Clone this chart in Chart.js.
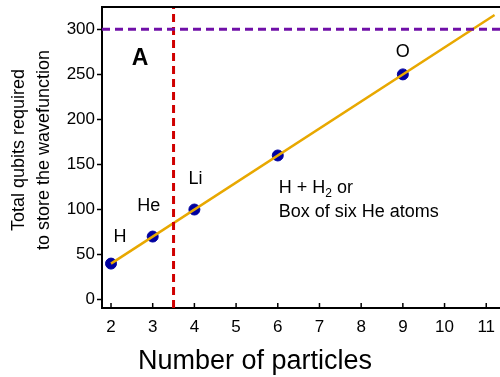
<!DOCTYPE html>
<html>
<head>
<meta charset="utf-8">
<script src="https://cdn.jsdelivr.net/npm/chart.js@4/dist/chart.umd.min.js"></script>
<style>
  html, body { margin: 0; padding: 0; background: #fff; }
  #wrap { width: 500px; height: 377px; }
</style>
</head>
<body>
<div id="wrap"><canvas id="chart" width="500" height="377"></canvas></div>
<script>
// Qubits needed vs number of particles, with the 300-qubit limit and cutoff.
const PARTICLES = [2, 3, 4, 6, 9];
const QUBITS = [40, 70, 100, 160, 250];
const POINT_LABELS = ['H', 'He', 'Li', '', 'O'];
const BOX_LABEL = ['H + H', '2', ' or', 'Box of six He atoms'];

const FIT_X = [2, 11.2];
const FIT_Y = [40, 316];

const QUBIT_LIMIT = 300;
const PARTICLE_CUTOFF = 3.5;

const X_TICKS = [2, 3, 4, 5, 6, 7, 8, 9, 10, 11];
const Y_TICKS = [0, 50, 100, 150, 200, 250, 300];
const X_RANGE = [1.784, 11.33];
const Y_RANGE = [-9.3, 324.8];

const FONT = "'Liberation Sans', Arial, Helvetica, sans-serif";
const ORANGE = '#e8a800';
const BLUE = '#0000a0';
const PURPLE = '#7010a8';
const RED = '#d00000';

const toPoints = (xs, ys) => xs.map((x, i) => ({ x, y: ys[i] }));

// Offsets of each element label from its point, in pixels.
const LABEL_OFFSETS = [[9, -27], [-4, -31], [1, -30], [0, 0], [0, -22]];

const annotations = {
  id: 'annotations',
  afterDraw(chart) {
    const { ctx, chartArea, scales } = chart;
    const xs = scales.x, ys = scales.y;
    ctx.save();

    // top frame
    ctx.strokeStyle = '#000';
    ctx.lineWidth = 2;
    ctx.beginPath();
    ctx.moveTo(chartArea.left - 1, chartArea.top);
    ctx.lineTo(chartArea.right, chartArea.top);
    ctx.stroke();

    // inward x ticks
    ctx.lineWidth = 1.5;
    X_TICKS.forEach(v => {
      const px = xs.getPixelForValue(v);
      ctx.beginPath();
      ctx.moveTo(px, chartArea.bottom);
      ctx.lineTo(px, chartArea.bottom - 5);
      ctx.stroke();
    });

    ctx.fillStyle = '#000';
    ctx.textAlign = 'center';
    ctx.textBaseline = 'middle';
    ctx.font = `18px ${FONT}`;
    PARTICLES.forEach((p, i) => {
      if (!POINT_LABELS[i]) return;
      const [dx, dy] = LABEL_OFFSETS[i];
      ctx.fillText(POINT_LABELS[i], xs.getPixelForValue(p) + dx, ys.getPixelForValue(QUBITS[i]) + dy);
    });

    // two-line label under the 6-particle point
    const bx = xs.getPixelForValue(PARTICLES[3]) + 1;
    const by = ys.getPixelForValue(QUBITS[3]);
    ctx.textAlign = 'left';
    let cx = bx;
    ctx.fillText(BOX_LABEL[0], cx, by + 33);
    cx += ctx.measureText(BOX_LABEL[0]).width;
    ctx.font = `12px ${FONT}`;
    ctx.fillText(BOX_LABEL[1], cx, by + 38);
    cx += ctx.measureText(BOX_LABEL[1]).width;
    ctx.font = `18px ${FONT}`;
    ctx.fillText(BOX_LABEL[2], cx, by + 33);
    ctx.fillText(BOX_LABEL[3], bx, by + 57);

    // panel letter
    ctx.textAlign = 'center';
    ctx.font = `bold 23px ${FONT}`;
    ctx.fillText('A', 140, 59);

    // axis titles
    ctx.font = `27px ${FONT}`;
    ctx.fillText('Number of particles', 255, 362);

    ctx.font = `18px ${FONT}`;
    ctx.translate(0, 150);
    ctx.rotate(-Math.PI / 2);
    ctx.fillText('Total qubits required', 0, 19);
    ctx.fillText('to store the wavefunction', 0, 44);
    ctx.restore();
  }
};

new Chart(document.getElementById('chart'), {
  type: 'scatter',
  data: {
    datasets: [
      {
        label: 'limit',
        data: toPoints(X_RANGE, [QUBIT_LIMIT, QUBIT_LIMIT]),
        showLine: true,
        borderColor: PURPLE,
        borderWidth: 3,
        borderDash: [8, 5],
        pointRadius: 0,
      },
      {
        label: 'cutoff',
        data: toPoints([PARTICLE_CUTOFF, PARTICLE_CUTOFF], Y_RANGE),
        showLine: true,
        borderColor: RED,
        borderWidth: 3,
        borderDash: [8, 5],
        pointRadius: 0,
      },
      {
        label: 'fit',
        data: toPoints(FIT_X, FIT_Y),
        showLine: true,
        borderColor: ORANGE,
        borderWidth: 2.5,
        pointRadius: 0,
      },
      {
        label: 'systems',
        data: toPoints(PARTICLES, QUBITS),
        backgroundColor: BLUE,
        borderColor: BLUE,
        pointRadius: 5.5,
      },
    ],
  },
  options: {
    responsive: false,
    animation: false,
    layout: { autoPadding: false, padding: { top: 7, right: 0, left: 0, bottom: 0 } },
    plugins: { legend: { display: false }, tooltip: { enabled: false } },
    scales: {
      x: {
        type: 'linear',
        min: X_RANGE[0],
        max: X_RANGE[1],
        afterBuildTicks: s => { s.ticks = X_TICKS.map(value => ({ value })); },
        afterFit: s => { s.height = 69; s.paddingLeft = 0; s.paddingRight = 0; },
        grid: { display: true, drawOnChartArea: false, drawTicks: false },
        border: { display: true, color: '#000', width: 2 },
        ticks: { color: '#000', font: { size: 17, family: FONT }, padding: 9, maxRotation: 0 },
      },
      y: {
        type: 'linear',
        min: Y_RANGE[0],
        max: Y_RANGE[1],
        afterBuildTicks: s => { s.ticks = Y_TICKS.map(value => ({ value })); },
        afterFit: s => { s.width = 102; s.paddingTop = 0; s.paddingBottom = 0; },
        grid: { display: true, drawOnChartArea: false, drawTicks: true, tickLength: 5, tickColor: '#000', tickWidth: 1.5 },
        border: { display: true, color: '#000', width: 2 },
        ticks: { color: '#000', font: { size: 17, family: FONT }, padding: 2 },
      },
    },
  },
  plugins: [annotations],
});
</script>
</body>
</html>
